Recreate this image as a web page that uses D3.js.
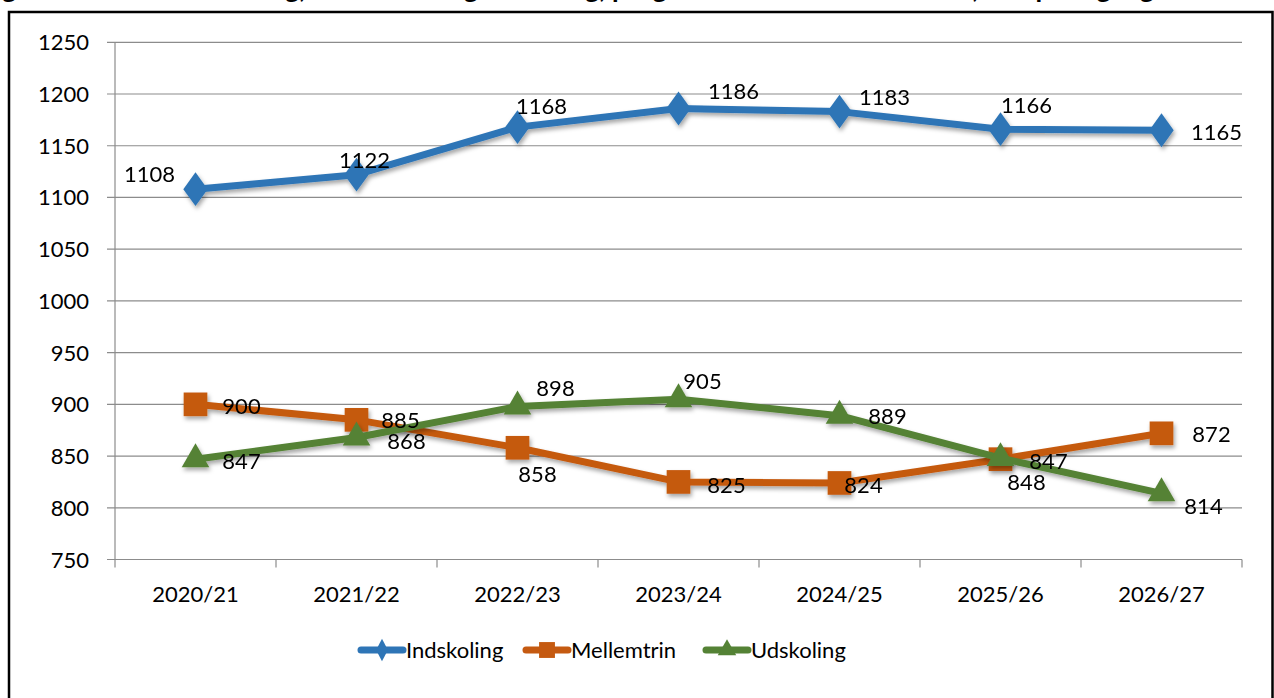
<!DOCTYPE html>
<html>
<head>
<meta charset="utf-8">
<script src="https://cdn.jsdelivr.net/npm/d3@7"></script>
<style>
  body { margin: 0; background: #fff; }
  svg { display: block; font-family: Lato, "Open Sans", sans-serif; }
</style>
</head>
<body>
<div id="container"></div>
<script>
/* DATA */
const years = ["2020/21", "2021/22", "2022/23", "2023/24", "2024/25", "2025/26", "2026/27"];
const indskoling = [1108, 1122, 1168, 1186, 1183, 1166, 1165];
const mellemtrin = [900, 885, 858, 825, 824, 847, 872];
const udskoling = [847, 868, 898, 905, 889, 848, 814];
const yTicks = [750, 800, 850, 900, 950, 1000, 1050, 1100, 1150, 1200, 1250];

// label offsets (dx, dy) from each point, as placed in the original
const indLabel = [[-46, -15], [8, -15], [24, -21], [55, -18], [45, -15], [26, -24], [55, 2]];
const melLabel = [[46, 2], [44, 0], [20, 26], [48, 3], [24, 2], [48, 2], [50, 1]];
const udsLabel = [[46, 2], [50, 4], [38, -18], [24, -18], [48, 0], [26, 24], [42, 13]];

/* CONSTANTS */
const width = 1274, height = 698;
const margin = { top: 42.3, bottom: 138.5, left: 115, right: 32 };

const svg = d3.select("#container")
  .append("svg")
  .attr("width", width)
  .attr("height", height);

const defs = svg.append("defs");
const shadow = defs.append("filter").attr("id", "shadow")
  .attr("x", "-20%").attr("y", "-20%").attr("width", "140%").attr("height", "160%");
shadow.append("feDropShadow")
  .attr("dx", 1.5).attr("dy", 3).attr("stdDeviation", 2)
  .attr("flood-color", "#000").attr("flood-opacity", 0.35);

// clipped title (only the descenders show in the original)
svg.append("text")
  .attr("x", -20)
  .attr("y", -2)
  .style("font-weight", "bold")
  .style("font-size", "27px")
  .text("Figur 4: Elevtal i indskoling, mellemtrin og udskoling, prognose 2020/21 – 2026/27, i alt pr. årgang");

// chart frame
svg.append("rect")
  .attr("x", 9).attr("y", 12)
  .attr("width", 1263.5).attr("height", 700)
  .attr("fill", "none")
  .attr("stroke", "#000")
  .attr("stroke-width", 2.5);

/* SCALES */
const xScale = d3.scaleBand()
  .domain(years)
  .range([margin.left, width - margin.right]);

const yScale = d3.scaleLinear()
  .domain([750, 1250])
  .range([height - margin.bottom, margin.top]);

/* GRID */
svg.append("g")
  .selectAll("line")
  .data(yTicks)
  .join("line")
  .attr("x1", margin.left - 8)
  .attr("x2", width - margin.right)
  .attr("y1", d => yScale(d))
  .attr("y2", d => yScale(d))
  .attr("stroke", "#8c8c8c")
  .attr("stroke-width", 1.2);

// y axis line
svg.append("line")
  .attr("x1", margin.left).attr("x2", margin.left)
  .attr("y1", yScale(1250)).attr("y2", yScale(750))
  .attr("stroke", "#8c8c8c").attr("stroke-width", 1.2);

// x tick marks at band boundaries
const bounds = years.map(d => xScale(d)).concat([xScale.range()[1]]);
svg.append("g")
  .selectAll("line")
  .data(bounds)
  .join("line")
  .attr("x1", d => d).attr("x2", d => d)
  .attr("y1", yScale(750)).attr("y2", yScale(750) + 8)
  .attr("stroke", "#8c8c8c").attr("stroke-width", 1.2);

/* AXIS LABELS */
svg.append("g")
  .selectAll("text")
  .data(yTicks)
  .join("text")
  .attr("x", 89)
  .attr("y", d => yScale(d) + 8)
  .attr("text-anchor", "end")
  .style("font-size", "22px")
  .attr("fill", "#000")
  .text(d => d);

svg.append("g")
  .selectAll("text")
  .data(years)
  .join("text")
  .attr("x", d => xScale(d) + xScale.bandwidth() / 2)
  .attr("y", 602)
  .attr("text-anchor", "middle")
  .style("font-size", "22px")
  .text(d => d);

/* SERIES */
const series = [
  { name: "Indskoling", values: indskoling, labels: indLabel, color: "#2e75b6", marker: d3.symbolDiamond, size: 330 },
  { name: "Mellemtrin", values: mellemtrin, labels: melLabel, color: "#c55a11", marker: d3.symbolSquare, size: 560 },
  { name: "Udskoling", values: udskoling, labels: udsLabel, color: "#548235", marker: d3.symbolTriangle, size: 330 }
];

const cx = d => xScale(d) + xScale.bandwidth() / 2;

const line = d3.line()
  .x((d, i) => cx(years[i]))
  .y(d => yScale(d));

series.forEach(s => {
  const g = svg.append("g").attr("filter", "url(#shadow)");
  g.append("path")
    .datum(s.values)
    .attr("d", line)
    .attr("fill", "none")
    .attr("stroke", s.color)
    .attr("stroke-width", 7)
    .attr("stroke-linejoin", "round")
    .attr("stroke-linecap", "round");

  g.selectAll("path.marker")
    .data(s.values)
    .join("path")
    .attr("class", "marker")
    .attr("d", d3.symbol().type(s.marker).size(s.size))
    .attr("transform", (d, i) => s.marker === d3.symbolDiamond
      ? `translate(${cx(years[i])},${yScale(d)}) scale(1.25,1)`
      : `translate(${cx(years[i])},${yScale(d)})`)
    .attr("fill", s.color);
});

// data labels drawn on top
series.forEach(s => {
  svg.append("g")
    .selectAll("text")
    .data(s.values)
    .join("text")
    .attr("x", (d, i) => cx(years[i]) + s.labels[i][0])
    .attr("y", (d, i) => yScale(d) + s.labels[i][1] + 8)
    .attr("text-anchor", "middle")
    .style("font-size", "22px")
    .attr("fill", "#000")
    .text(d => d);
});

/* LEGEND */
const legendX = [358, 523, 703];
const legend = svg.append("g");
series.forEach((s, i) => {
  const lg = legend.append("g").attr("transform", `translate(${legendX[i]},650)`);
  lg.append("line")
    .attr("x1", 3).attr("x2", 45)
    .attr("stroke", s.color)
    .attr("stroke-width", 7)
    .attr("stroke-linecap", "round");
  lg.append("path")
    .attr("d", d3.symbol().type(s.marker).size(s.size * 0.45))
    .attr("transform", s.marker === d3.symbolDiamond ? "translate(24,0) scale(0.9,1)" : "translate(24,0)")
    .attr("fill", s.color);
  lg.append("text")
    .attr("x", 48)
    .attr("y", 8)
    .style("font-size", "22px")
    .text(s.name);
});
</script>
</body>
</html>
